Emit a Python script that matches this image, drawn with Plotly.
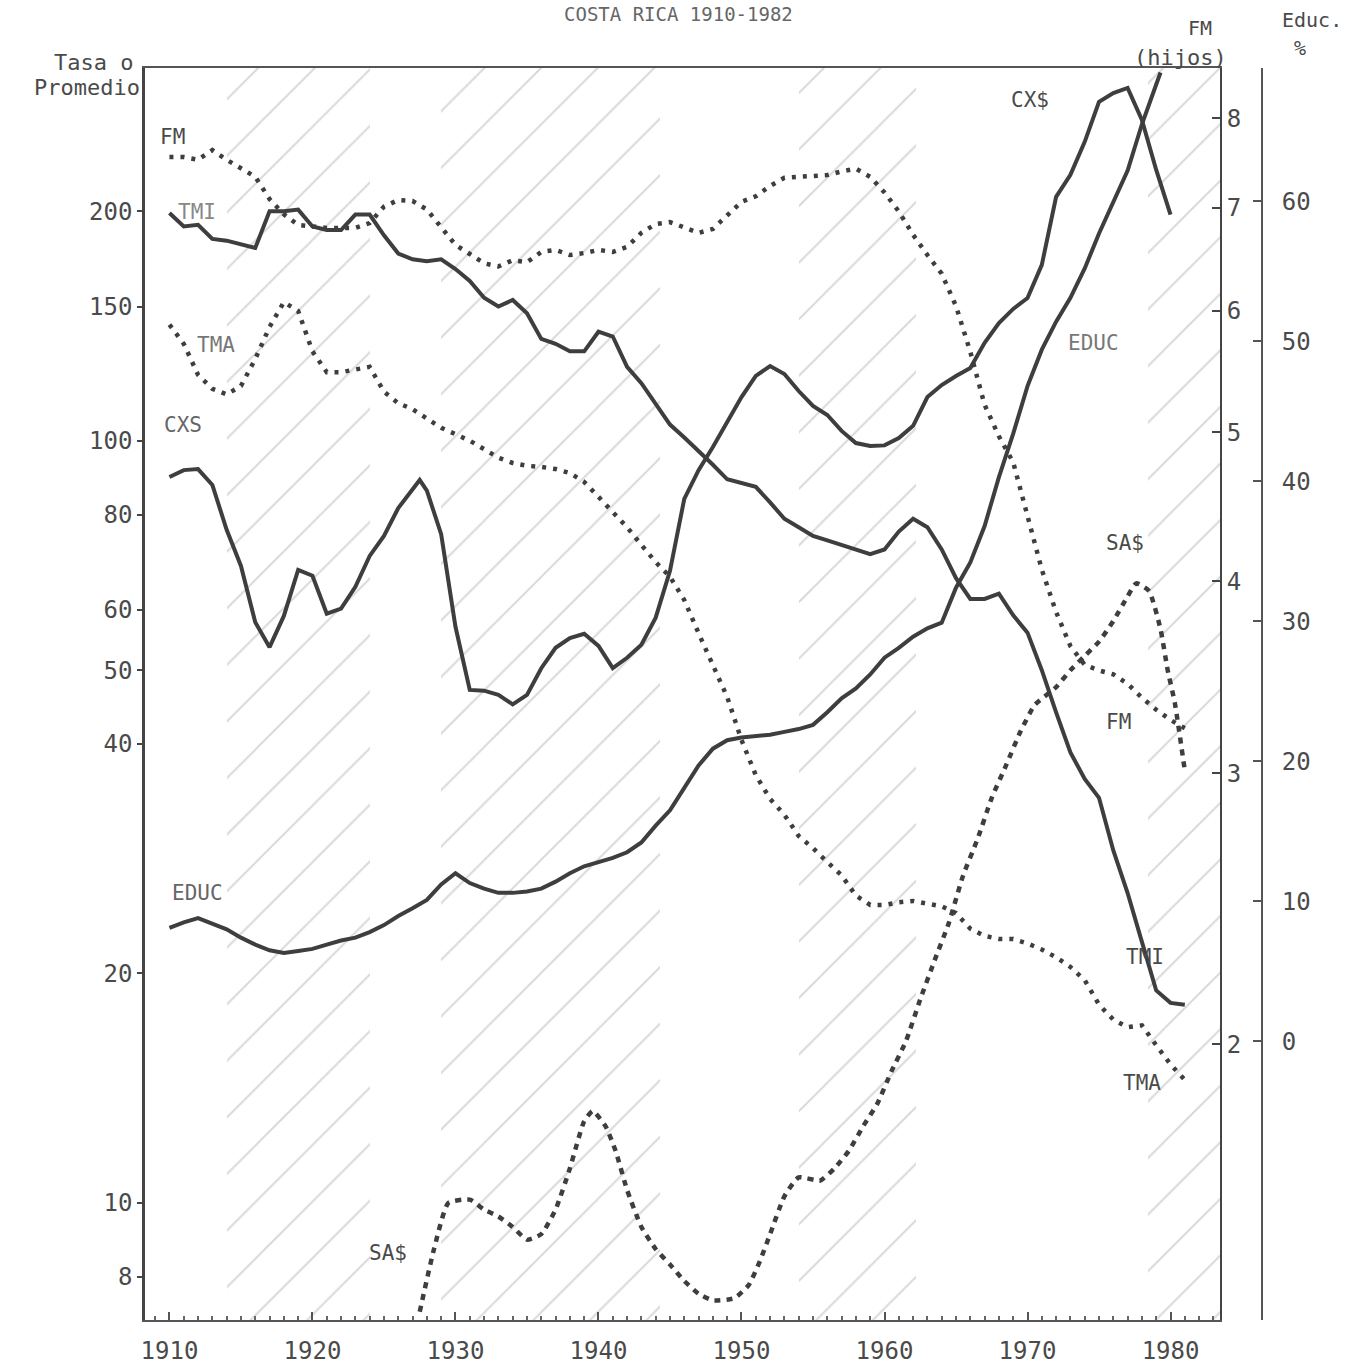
import plotly.graph_objects as go

# ---------------- data ----------------
years = list(range(1910, 1982))  # 1910 ... 1981

# TMI (left log axis)
tmi = [199, 191, 192, 184, 183, 181, 179, 200, 200, 201,
       191, 189, 189, 198, 198, 186, 176, 173, 172, 173,
       168, 162, 154, 150, 153, 147, 136, 134, 131, 131,
       139, 137, 125, 119, 112, 105, 101, 97, 93, 89,
       88, 87, 83, 79, 77, 75, 74, 73, 72, 71,
       72, 76, 79, 77, 72, 66, 62, 62, 63, 59,
       56, 50, 44, 39, 36, 34, 29, 25.5, 22, 19,
       18.3, 18.2]

# TMA (left log axis)
tma = [142, 134, 122, 117, 115, 118, 128, 141, 152, 148,
       131, 123, 123, 124, 125, 116, 112, 110, 107, 104,
       102, 100, 97.5, 95, 93.5, 92.7, 92.4, 91.8, 90.7, 88.3,
       84.4, 80.5, 77.0, 73.0, 69.3, 66.3, 61.8, 55.9, 50.8, 46.1,
       40.5, 36.4, 33.9, 32.3, 30.3, 29.2, 28.0, 26.9, 25.3, 24.6,
       24.6, 24.8, 24.9, 24.7, 24.5, 24.0, 22.9, 22.4, 22.2, 22.2,
       21.9, 21.5, 21.0, 20.4, 19.6, 18.2, 17.4, 17.0, 17.1, 16.1,
       15.2, 14.5]

# FM (hijos, right log axis)
fm = [7.55, 7.55, 7.52, 7.63, 7.52, 7.42, 7.33, 7.09, 6.93, 6.82,
      6.80, 6.79, 6.79, 6.79, 6.84, 7.01, 7.08, 7.07, 6.98, 6.79,
      6.62, 6.53, 6.44, 6.41, 6.47, 6.45, 6.55, 6.57, 6.52, 6.54,
      6.57, 6.55, 6.60, 6.74, 6.83, 6.85, 6.80, 6.74, 6.78, 6.92,
      7.06, 7.12, 7.23, 7.32, 7.33, 7.34, 7.35, 7.39, 7.42, 7.33,
      7.16, 6.96, 6.72, 6.52, 6.34, 6.04, 5.64, 5.21, 4.97, 4.78,
      4.40, 4.07, 3.82, 3.63, 3.53, 3.50, 3.48, 3.43, 3.36, 3.30,
      3.25, 3.21]

# CX$ (left log axis)
cxs_years = list(range(1910, 1928)) + [1927.5] + list(range(1928, 1981))
cxs = [89.6, 91.5, 91.8, 87.5, 76.4, 68.5, 57.8, 53.6, 58.9, 67.7,
       66.5, 59.3, 60.2, 64.3, 70.6, 75.0, 81.6, 86.4,
       88.8,
       86.0, 75.4, 57.0, 47.1, 47.0, 46.4, 45.1, 46.4, 50.3, 53.5,
       55.1, 55.8, 53.8, 50.3, 51.9, 54.0, 58.6, 67.5, 83.9, 91.5,
       98.1, 105.5, 114.1, 121.6, 125.3, 122.3, 116.2, 111.1, 108.1, 103.0,
       99.3, 98.4, 98.6, 100.8, 104.6, 114.1, 118.3, 121.6, 124.6, 134.4,
       142.7, 148.9, 153.9, 170.1, 208.9, 223.3, 246.7, 278.3, 285.9, 290.3,
       263.6, 226.6, 198.0]

# EDUC (% , right linear axis)
educ_years = list(range(1910, 1980)) + [1979.3]
educ = [8.1, 8.5, 8.8, 8.4, 8.0, 7.4, 6.9, 6.5, 6.3, 6.45,
        6.6, 6.9, 7.2, 7.4, 7.8, 8.3, 8.95, 9.5, 10.1, 11.2,
        12.0, 11.3, 10.9, 10.6, 10.6, 10.7, 10.9, 11.4, 12.0, 12.5,
        12.8, 13.1, 13.5, 14.2, 15.4, 16.5, 18.1, 19.7, 20.9, 21.5,
        21.7, 21.8, 21.9, 22.1, 22.3, 22.6, 23.5, 24.5, 25.2, 26.2,
        27.4, 28.1, 28.9, 29.5, 29.9, 32.4, 34.2, 36.8, 40.3, 43.4,
        46.8, 49.4, 51.4, 53.1, 55.2, 57.7, 59.9, 62.2, 65.5, 68.5,
        69.2]

# SA$ (left log axis)
sas_years = [1927.5, 1928.5, 1929.5, 1931, 1932, 1933, 1934, 1935, 1936, 1937,
             1938, 1939, 1939.6, 1940.5, 1941.2, 1942, 1943, 1944, 1945, 1946,
             1947, 1948, 1949.5, 1950.5, 1951.3, 1952, 1953, 1954, 1955.5, 1956.5,
             1957.5, 1958.5, 1959.5, 1960.5, 1961.5, 1962.5, 1963.5, 1964.5, 1965.5, 1966.5,
             1967.5, 1968.5, 1969.5, 1970.5, 1972, 1973, 1974, 1975, 1976, 1977,
             1977.6, 1978.5, 1979.3, 1979.8, 1980.3, 1981]
sas = [7.2, 8.7, 10.0, 10.1, 9.8, 9.6, 9.3, 8.95, 9.1, 9.8,
       11.1, 12.8, 13.2, 12.6, 11.7, 10.4, 9.3, 8.7, 8.3, 7.9,
       7.6, 7.45, 7.5, 7.8, 8.4, 9.1, 10.2, 10.8, 10.7, 11.1,
       11.7, 12.6, 13.5, 14.9, 16.3, 18.5, 20.8, 23.3, 26.9, 30.0,
       34.0, 37.5, 41.5, 45.0, 47.5, 50.0, 52.2, 54.5, 58.0, 62.5,
       65.0, 63.5, 56.6, 50.0, 45.3, 36.9]

# hatched periods
hatch_start = [1914, 1929, 1954, 1978.4]
hatch_end = [1924, 1944.3, 1962.2, 1983.5]

# tick labels
left_ticks = [8, 10, 20, 40, 50, 60, 80, 100, 150, 200]
fm_ticks = [2, 3, 4, 5, 6, 7, 8]
educ_ticks = [0, 10, 20, 30, 40, 50, 60]
year_ticks = list(range(1910, 1990, 10))

# ---------------- styling ----------------
FONT = "DejaVu Sans Mono"
INK = "#3e3e3e"
TXT = "#4a4a4a"
W, H = 1356, 1366
ML, MR, MT, MB = 145, 60, 68, 46
PW, PH = W - ML - MR, H - MT - MB
XD = (1220 - ML) / PW
EDUC_POS = (1262 - ML) / PW

fig = go.Figure()

fig.add_trace(go.Bar(
    x=[(s + e) / 2 for s, e in zip(hatch_start, hatch_end)],
    width=[e - s for s, e in zip(hatch_start, hatch_end)],
    base=[5] * len(hatch_start),
    y=[400] * len(hatch_start),
    marker=dict(color="rgba(0,0,0,0)", line=dict(width=0),
                pattern=dict(shape="/", fgcolor="#b4b4b4", size=40,
                             solidity=0.05, fillmode="overlay")),
    yaxis="y", hoverinfo="skip", showlegend=False))

fig.add_trace(go.Scatter(x=years, y=tmi, mode="lines", yaxis="y",
                         line=dict(color=INK, width=4), name="TMI"))
fig.add_trace(go.Scatter(x=cxs_years, y=cxs, mode="lines", yaxis="y",
                         line=dict(color=INK, width=4), name="CX$"))
fig.add_trace(go.Scatter(x=years, y=tma, mode="lines", yaxis="y",
                         line=dict(color=INK, width=4.5, dash="4px,7px"),
                         name="TMA"))
fig.add_trace(go.Scatter(x=sas_years, y=sas, mode="lines", yaxis="y",
                         line=dict(color=INK, width=4.5, dash="6px,6px",
                                   shape="spline", smoothing=0.5),
                         name="SA$"))
fig.add_trace(go.Scatter(x=years, y=fm, mode="lines", yaxis="y2",
                         line=dict(color=INK, width=4.5, dash="4px,7px"),
                         name="FM"))
fig.add_trace(go.Scatter(x=educ_years, y=educ, mode="lines", yaxis="y3",
                         line=dict(color=INK, width=4), name="EDUC"))

tickfont = dict(family=FONT, size=24, color=TXT)

fig.update_layout(
    width=W, height=H,
    margin=dict(l=ML, r=MR, t=MT, b=MB),
    paper_bgcolor="white", plot_bgcolor="white",
    showlegend=False,
    bargap=0,
    xaxis=dict(domain=[0, XD], range=[1908.29, 1983.46],
               tickvals=year_ticks, ticktext=[str(v) for v in year_ticks],
               showline=True, linecolor="#555", linewidth=2, mirror=True,
               ticks="inside", ticklen=8, tickcolor="#555", tickwidth=2,
               minor=dict(tickmode="linear", tick0=1910, dtick=1,
                          ticks="inside", ticklen=4, tickcolor="#666"),
               showgrid=False, zeroline=False, tickfont=tickfont,
               ticklabelstandoff=8, automargin=False),
    yaxis=dict(type="log", range=[0.8464, 2.4890],
               tickvals=left_ticks, ticktext=[str(v) for v in left_ticks],
               showline=True, linecolor="#444", linewidth=2.5,
               ticks="outside", ticklen=5, tickcolor="#444", tickwidth=2,
               showgrid=False, zeroline=False, tickfont=tickfont,
               automargin=False),
    yaxis2=dict(type="log", range=[0.1216, 0.9359], overlaying="y",
                side="right", anchor="x",
                tickvals=fm_ticks, ticktext=[str(v) for v in fm_ticks],
                showline=True, linecolor="#444", linewidth=2,
                ticks="inside", ticklen=8, tickcolor="#444", tickwidth=2,
                showgrid=False, zeroline=False, tickfont=tickfont,
                ticklabelstandoff=0, automargin=False),
    yaxis3=dict(range=[-19.91, 69.52], overlaying="y", side="right",
                anchor="free", position=EDUC_POS,
                tickvals=educ_ticks, ticktext=[str(v) for v in educ_ticks],
                showline=True, linecolor="#555", linewidth=2,
                ticks="inside", ticklen=8, tickcolor="#555", tickwidth=2,
                showgrid=False, zeroline=False, tickfont=tickfont,
                ticklabelstandoff=14, automargin=False),
)


def ann(text, xp, yp, size=21, xanchor="center", color=TXT):
    return dict(text=text, x=(xp - ML) / PW, y=(H - MB - yp) / PH,
                xref="paper", yref="paper", showarrow=False,
                xanchor=xanchor, yanchor="middle",
                font=dict(family=FONT, size=size, color=color))


annotations = [
    ann("COSTA RICA 1910-1982", 678, 14, size=19, color="#666"),
    ann("Tasa o", 135, 62, size=22, xanchor="right"),
    ann("Promedio", 142, 88, size=22, xanchor="right"),
    ann("FM", 1200, 28, size=20),
    ann("(hijos)", 1180, 58, size=22),
    ann("Educ.", 1312, 20, size=20),
    ann("%", 1300, 48, size=20),
    ann("FM", 172, 137),
    ann("TMI", 197, 212, color="#888"),
    ann("TMA", 216, 345, color="#777"),
    ann("CXS", 183, 425, color="#666"),
    ann("EDUC", 197, 893, color="#666"),
    ann("SA$", 388, 1253),
    ann("CX$", 1030, 100),
    ann("EDUC", 1093, 343, color="#777"),
    ann("SA$", 1125, 543),
    ann("FM", 1118, 722),
    ann("TMI", 1145, 957),
    ann("TMA", 1142, 1083),
]
fig.update_layout(annotations=annotations)

fig.write_html("out.html")
